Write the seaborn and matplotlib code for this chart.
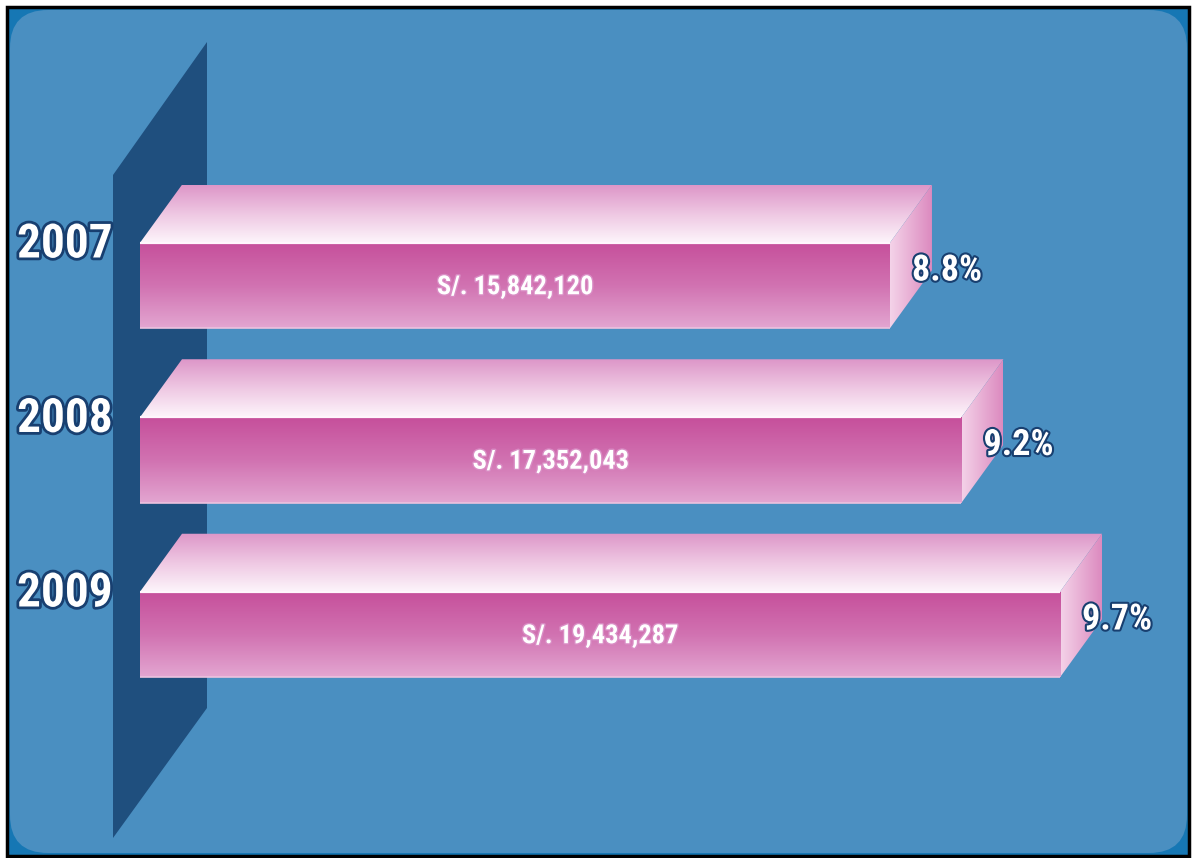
import numpy as np
import matplotlib
matplotlib.use("Agg")
import matplotlib.pyplot as plt
import matplotlib.patheffects as pe
from matplotlib.patches import Polygon, Rectangle, FancyBboxPatch
from matplotlib.colors import to_rgb
import seaborn as sns
import pandas as pd

# Annual amounts (soles) and growth shares
years = ["2007", "2008", "2009"]
amounts = [15842120, 17352043, 19434287]
shares = ["8.8%", "9.2%", "9.7%"]

W, H = 1195, 858
sns.set_style("white")
NARROW = ["Roboto Condensed", "DejaVu Sans"]
plt.rcParams["font.family"] = NARROW
plt.rcParams["font.stretch"] = "condensed"

fig = plt.figure(figsize=(W / 100, H / 100), dpi=100)
fig.patch.set_facecolor("white")

# ---- backdrop: framed rounded panel and the slanted wall ----
bg = fig.add_axes([0, 0, 1, 1])
bg.set_xlim(0, W)
bg.set_ylim(H, 0)
bg.axis("off")
bg.add_patch(Rectangle((7, 7), 1182, 849, facecolor="#1677b4",
                       edgecolor="black", lw=2.5, zorder=0))
bg.add_patch(FancyBboxPatch((10, 10), 1177, 843,
                            boxstyle="round,pad=0,rounding_size=38",
                            facecolor="#4a8fc1", edgecolor="none", zorder=1))
bg.add_patch(Polygon([(113, 175), (207, 42), (207, 708), (113, 838)],
                     closed=True, facecolor="#1f4f7e", edgecolor="none", zorder=2))

# ---- bars ----
ax = fig.add_axes([0, 0, 1, 1])
ax.set_facecolor("none")
df = pd.DataFrame({"year": years, "amount": amounts})
sns.barplot(data=df, x="amount", y="year", orient="h", width=0.49,
            color="#c9559f", ax=ax)

px_per_unit = 47.34e-6       # horizontal pixels per sol
px_per_row = 174.5           # vertical pixels per category
x_origin_px, y_origin_px = 140, 285.5
dx = 42 / px_per_unit
dy = 58 / px_per_row


def gradient(c0, c1, n=256):
    a, b = np.array(to_rgb(c0)), np.array(to_rgb(c1))
    t = np.linspace(0, 1, n)[:, None]
    return a + (b - a) * t


def paint(extent, colors, clip, horizontal=False, z=3):
    arr = colors[:, None, :] if not horizontal else colors[None, :, :]
    im = ax.imshow(arr, extent=extent, origin="upper", aspect="auto",
                   interpolation="bilinear", zorder=z)
    im.set_clip_path(clip)
    return im


bars = list(ax.patches)
for bar in bars:
    x0 = bar.get_x()
    x1 = x0 + bar.get_width()
    y0 = bar.get_y()
    y1 = y0 + bar.get_height()
    bar.set_facecolor("none")
    bar.set_edgecolor("none")

    # top face
    top = Polygon([(x0, y0), (x0 + dx, y0 - dy), (x1 + dx, y0 - dy), (x1, y0)],
                  closed=True, facecolor="none", edgecolor="none")
    ax.add_patch(top)
    tcol = np.vstack([gradient("#dd96c8", "#f0cce5", 140),
                      gradient("#f0cce5", "#fdf5fb", 116)])
    paint((x0, x1 + dx, y0, y0 - dy), tcol, top)

    # side face
    side = Polygon([(x1, y0), (x1 + dx, y0 - dy), (x1 + dx, y1 - dy), (x1, y1)],
                   closed=True, facecolor="none", edgecolor="none")
    ax.add_patch(side)
    paint((x1, x1 + dx, y1, y0 - dy), gradient("#f4d3e9", "#dc8abf"), side,
          horizontal=True)

    # front face
    fcol = np.vstack([gradient("#c64f9b", "#d172b1", 128),
                      gradient("#d172b1", "#e3a6d1", 128)])
    paint((x0, x1, y1, y0), fcol, bar, z=4)
    ax.plot([x0, x1], [y0, y0], color="#fff6fc", lw=1.6, zorder=5,
            solid_capstyle="butt")
    ax.plot([x0, x1], [y1, y1], color="#ecc2df", lw=1.2, zorder=5,
            solid_capstyle="butt")

# labels
navy = [pe.withStroke(linewidth=4, foreground="#183f70")]
for bar, yr, amt, share in zip(bars, years, amounts, shares):
    x0 = bar.get_x()
    x1 = x0 + bar.get_width()
    y0 = bar.get_y()
    yc = y0 + bar.get_height() / 2
    ax.text((65 - x_origin_px) / px_per_unit, y0 + 0.01, yr, ha="center",
            va="center", color="white", fontsize=34, fontweight="bold",
            path_effects=navy, zorder=8)
    ax.text(x1 + 22 / px_per_unit, yc - 15 / px_per_row, share, ha="left",
            va="center", color="white", fontsize=26, fontweight="bold",
            path_effects=[pe.withStroke(linewidth=3, foreground="#183f70")],
            zorder=8)
    ax.text((x0 + x1) / 2, yc + 0.01, f"S/. {amt:,}", ha="center",
            va="center", color="white", fontsize=19, fontweight="bold",
            path_effects=[pe.withStroke(linewidth=2, foreground="#d98cc4")],
            zorder=8)

ax.set_xlim(-x_origin_px / px_per_unit, (W - x_origin_px) / px_per_unit)
ax.set_ylim((H - y_origin_px) / px_per_row, -y_origin_px / px_per_row)
ax.axis("off")

fig.savefig("out.png", dpi=100, facecolor=fig.get_facecolor())
